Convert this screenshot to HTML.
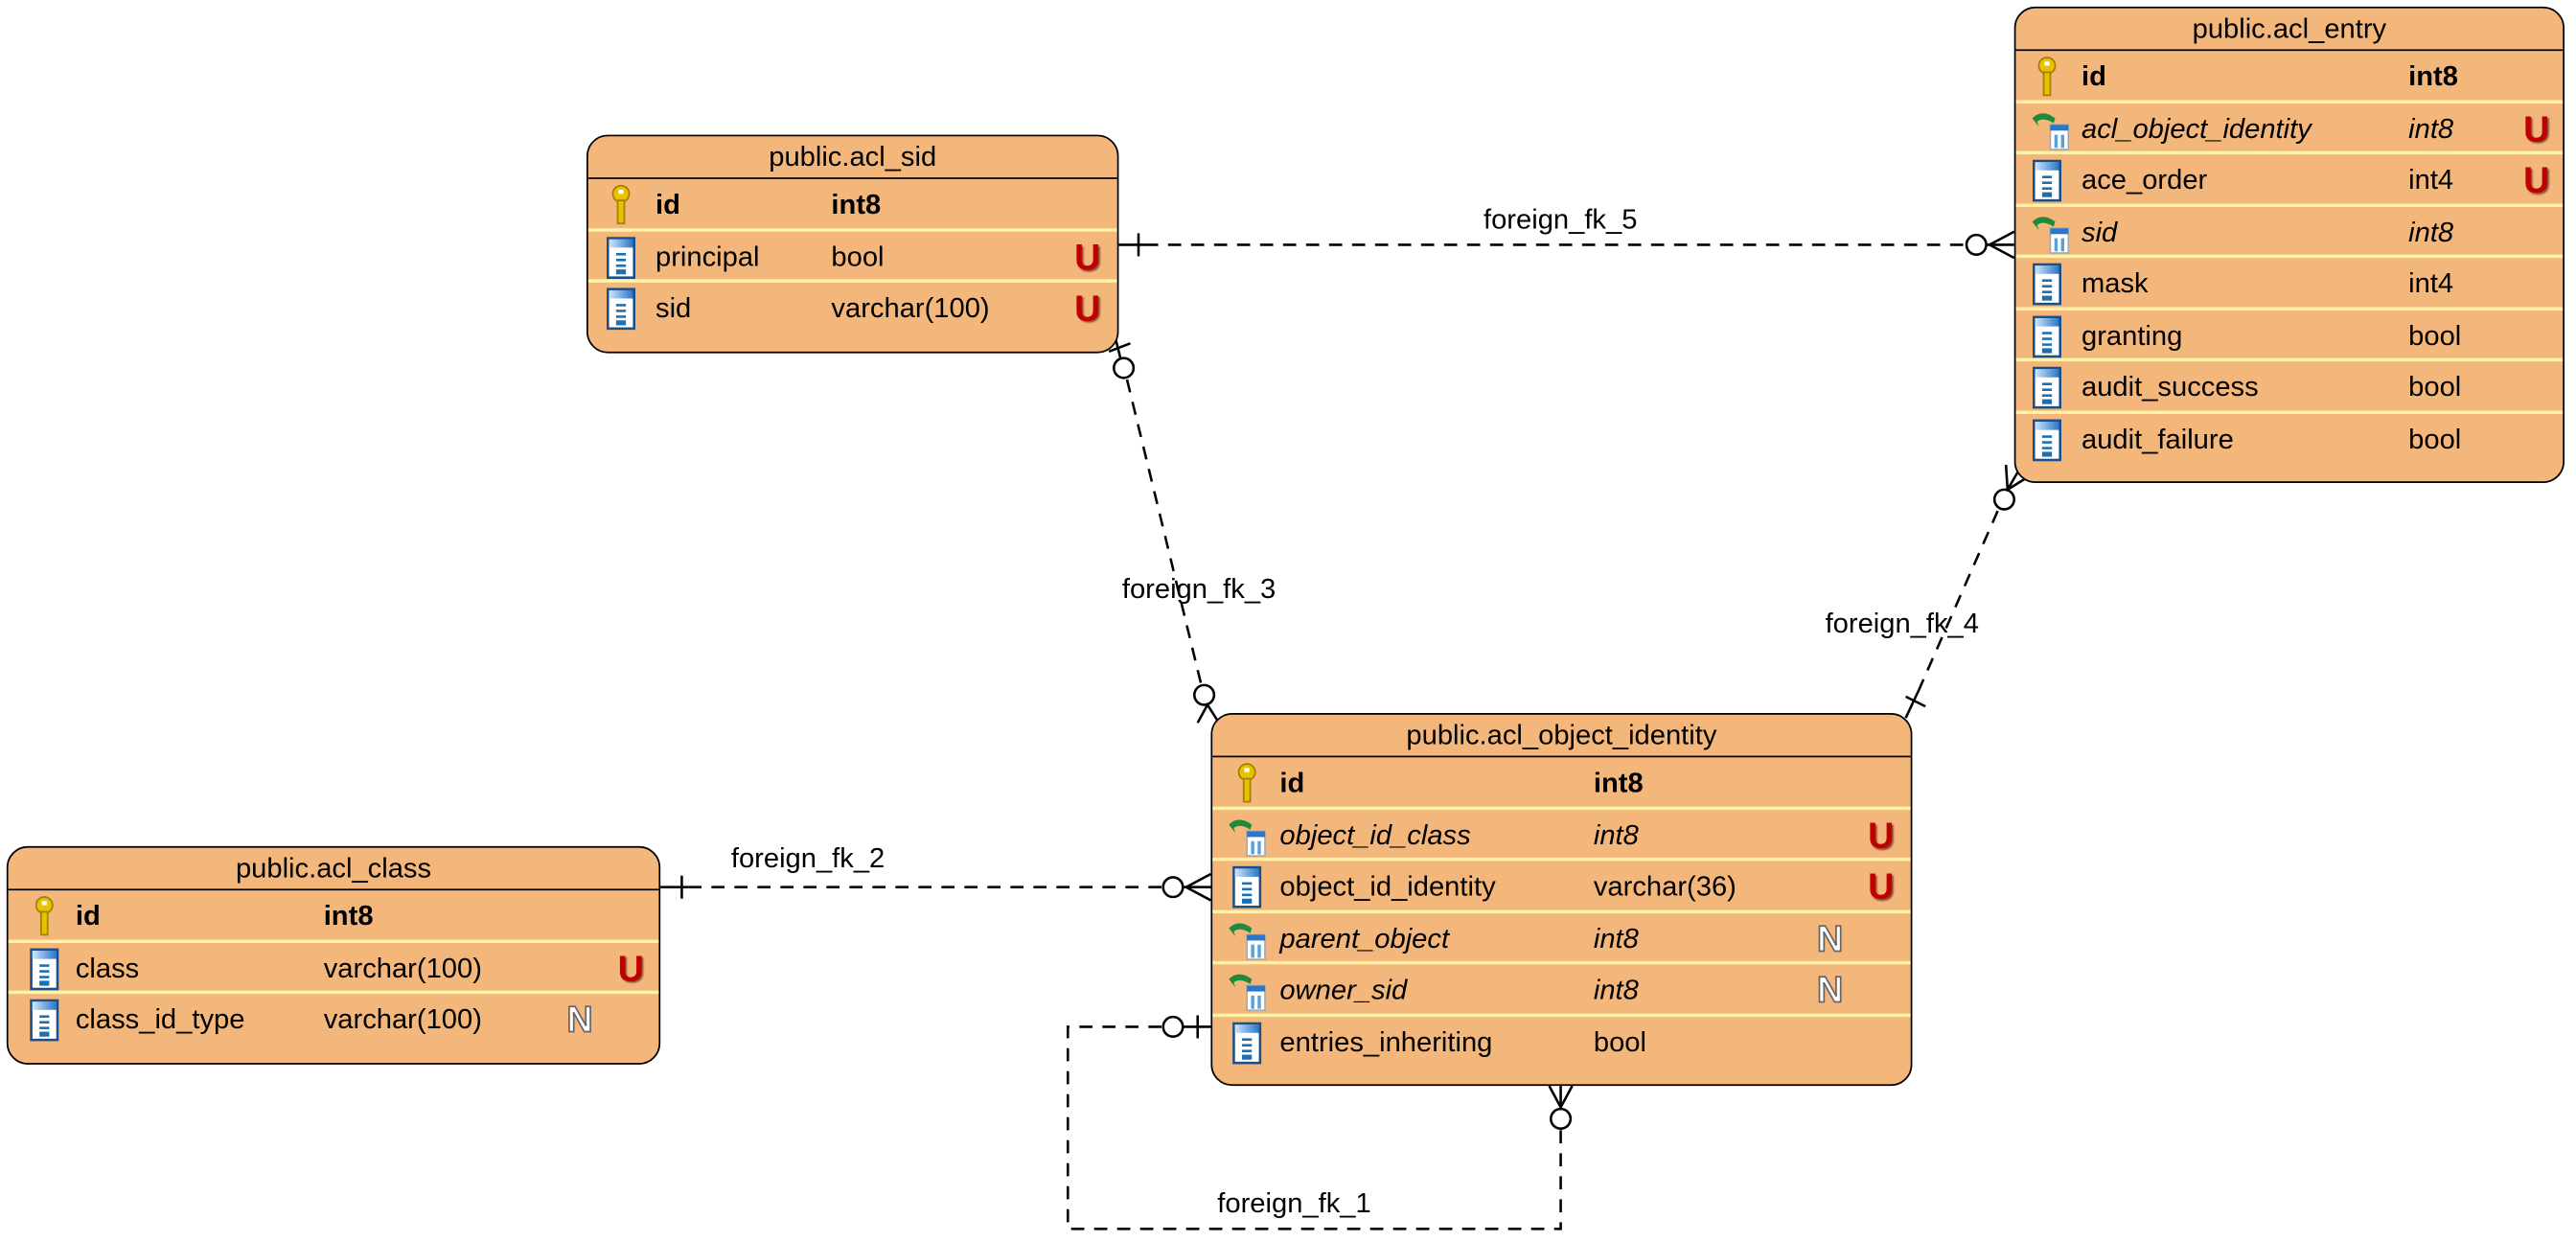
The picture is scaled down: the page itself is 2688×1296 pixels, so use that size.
<!DOCTYPE html>
<html><head><meta charset="utf-8"><style>
html,body{margin:0;padding:0;background:#fff;width:2688px;height:1296px;overflow:hidden}
#w{position:absolute;left:0;top:0;width:1568px;height:756px;transform:scale(1.71429);transform-origin:0 0;font-family:"Liberation Sans","DejaVu Sans",sans-serif;font-size:17px;color:#000}
.t{position:absolute;background:#f3b67b;border:1.5px solid #000;border-radius:13px;box-sizing:border-box;overflow:hidden}
.h{height:26px;line-height:26px;text-align:center;border-bottom:1.5px solid #000;box-sizing:border-box}
.r{position:relative;height:31.5px;line-height:31px;box-sizing:border-box}
.r.s{border-bottom:2px solid #fff3a8}
.r span{position:absolute;top:0;white-space:nowrap}
.r svg{position:absolute;top:3px}
.b{font-weight:bold}.i{font-style:italic}
.U{color:#c00000;font-weight:bold;font-size:22px;text-shadow:1px 1px 1px #8a4a30}
.N{color:#fff;font-weight:bold;font-size:22px;-webkit-text-stroke:1px #666}
.lb{position:absolute;white-space:nowrap;font-size:17px}
</style></head><body><div id="w">
<svg width="0" height="0" style="position:absolute"><defs>
<linearGradient id="g" x1="0" x2="1"><stop offset="0" stop-color="#cfe6fb"/><stop offset="1" stop-color="#2a76c8"/></linearGradient>
<symbol id="key" viewBox="0 0 18 26"><circle cx="9" cy="6" r="5" fill="#e8c200" stroke="#a08000"/><rect x="7.5" y="3.5" width="3" height="2.5" fill="#fff"/><rect x="7" y="10" width="4" height="14" fill="#e8c200" stroke="#a08000"/></symbol>
<symbol id="col" viewBox="0 0 18 26"><rect x="1" y="1" width="16" height="24" fill="#fff" stroke="#1d4f86" stroke-width="1.5"/><rect x="1.7" y="1.7" width="14.6" height="5" fill="url(#g)"/><rect x="6" y="10" width="6" height="1.5" fill="#1d6fb0"/><rect x="6" y="13.5" width="6" height="1.5" fill="#1d6fb0"/><rect x="6" y="17" width="6" height="1.5" fill="#1d6fb0"/><rect x="6" y="20" width="6" height="3" fill="#1d6fb0"/></symbol>
<symbol id="fk" viewBox="0 0 26 26"><path d="M2 6 Q8 0 16 6 L15 9 Q9 5 5 8 L6 11 Z" fill="#1f8a3a"/><rect x="13" y="10" width="11" height="15" fill="#fff" stroke="#aaa"/><rect x="13" y="10" width="11" height="3.5" fill="#2a76c8"/><rect x="15.5" y="16" width="2" height="8" fill="#5aa0d8"/><rect x="19.5" y="16" width="2" height="8" fill="#5aa0d8"/></symbol>
</defs></svg>

<svg style="position:absolute;left:0;top:0" width="1568" height="756" fill="none" stroke="#000" stroke-width="1.5">
<g stroke-dasharray="8,6">
<line x1="697" y1="149" x2="1197" y2="149"/>
<line x1="686" y1="231" x2="731" y2="416"/>
<line x1="1216" y1="311" x2="1168" y2="420"/>
<line x1="419" y1="540" x2="708" y2="540"/>
<path d="M707 625 H650 V748 H950 V688"/>
</g>
<!-- fk5 -->
<line x1="681" y1="149" x2="697" y2="149"/><line x1="693" y1="142" x2="693" y2="156"/>
<circle cx="1203" cy="149" r="6"/><line x1="1209" y1="149" x2="1226" y2="149"/>
<path d="M1226 141 L1211 149 L1226 157"/>
<!-- fk3 -->
<path d="M675 214 L688 209"/><line x1="679" y1="206" x2="682" y2="218"/>
<circle cx="684" cy="224" r="6"/>
<circle cx="733" cy="423" r="6"/>
<path d="M729 440 L735 429 L742 440"/>
<!-- fk4 -->
<path d="M1221 283 L1222 298 L1235 290 M1222 298 L1229 286"/>
<circle cx="1220" cy="304" r="6"/>
<line x1="1160" y1="424" x2="1172" y2="430"/><line x1="1168" y1="420" x2="1160" y2="437"/>
<!-- fk2 -->
<line x1="402" y1="540" x2="419" y2="540"/><line x1="415" y1="533" x2="415" y2="547"/>
<circle cx="714" cy="540" r="6"/><line x1="720" y1="540" x2="737" y2="540"/>
<path d="M737 532 L722 540 L737 548"/>
<!-- fk1 -->
<circle cx="714" cy="625" r="6"/><line x1="720" y1="625" x2="737" y2="625"/><line x1="729" y1="618" x2="729" y2="632"/>
<circle cx="950" cy="681" r="6"/><line x1="950" y1="661" x2="950" y2="675"/>
<path d="M943 661 L950 674 L957 661"/>
</svg>

<div class="lb" style="left:903px;top:124px">foreign_fk_5</div>
<div class="lb" style="left:683px;top:349px">foreign_fk_3</div>
<div class="lb" style="left:1111px;top:370px">foreign_fk_4</div>
<div class="lb" style="left:445px;top:513px">foreign_fk_2</div>
<div class="lb" style="left:741px;top:723px">foreign_fk_1</div>

<div class="t" style="left:357px;top:82px;width:324px;height:133px">
<div class="h">public.acl_sid</div>
<div class="r s"><svg style="left:11px" width="18" height="26"><use href="#key"/></svg><span class="b" style="left:41px">id</span><span class="b" style="left:148px">int8</span></div>
<div class="r s"><svg style="left:11px" width="18" height="26"><use href="#col"/></svg><span style="left:41px">principal</span><span style="left:148px">bool</span><span class="U" style="left:296px">U</span></div>
<div class="r"><svg style="left:11px" width="18" height="26"><use href="#col"/></svg><span style="left:41px">sid</span><span style="left:148px">varchar(100)</span><span class="U" style="left:296px">U</span></div>
</div>

<div class="t" style="left:1226px;top:4px;width:335px;height:290px">
<div class="h">public.acl_entry</div>
<div class="r s"><svg style="left:10px" width="18" height="26"><use href="#key"/></svg><span class="b" style="left:40px">id</span><span class="b" style="left:239px">int8</span></div>
<div class="r s"><svg style="left:8px" width="26" height="26"><use href="#fk"/></svg><span class="i" style="left:40px">acl_object_identity</span><span class="i" style="left:239px">int8</span><span class="U" style="left:309px">U</span></div>
<div class="r s"><svg style="left:10px" width="18" height="26"><use href="#col"/></svg><span style="left:40px">ace_order</span><span style="left:239px">int4</span><span class="U" style="left:309px">U</span></div>
<div class="r s"><svg style="left:8px" width="26" height="26"><use href="#fk"/></svg><span class="i" style="left:40px">sid</span><span class="i" style="left:239px">int8</span></div>
<div class="r s"><svg style="left:10px" width="18" height="26"><use href="#col"/></svg><span style="left:40px">mask</span><span style="left:239px">int4</span></div>
<div class="r s"><svg style="left:10px" width="18" height="26"><use href="#col"/></svg><span style="left:40px">granting</span><span style="left:239px">bool</span></div>
<div class="r s"><svg style="left:10px" width="18" height="26"><use href="#col"/></svg><span style="left:40px">audit_success</span><span style="left:239px">bool</span></div>
<div class="r"><svg style="left:10px" width="18" height="26"><use href="#col"/></svg><span style="left:40px">audit_failure</span><span style="left:239px">bool</span></div>
</div>

<div class="t" style="left:737px;top:434px;width:427px;height:227px">
<div class="h">public.acl_object_identity</div>
<div class="r s"><svg style="left:12px" width="18" height="26"><use href="#key"/></svg><span class="b" style="left:41px">id</span><span class="b" style="left:232px">int8</span></div>
<div class="r s"><svg style="left:8px" width="26" height="26"><use href="#fk"/></svg><span class="i" style="left:41px">object_id_class</span><span class="i" style="left:232px">int8</span><span class="U" style="left:399px">U</span></div>
<div class="r s"><svg style="left:12px" width="18" height="26"><use href="#col"/></svg><span style="left:41px">object_id_identity</span><span style="left:232px">varchar(36)</span><span class="U" style="left:399px">U</span></div>
<div class="r s"><svg style="left:8px" width="26" height="26"><use href="#fk"/></svg><span class="i" style="left:41px">parent_object</span><span class="i" style="left:232px">int8</span><span class="N" style="left:368px">N</span></div>
<div class="r s"><svg style="left:8px" width="26" height="26"><use href="#fk"/></svg><span class="i" style="left:41px">owner_sid</span><span class="i" style="left:232px">int8</span><span class="N" style="left:368px">N</span></div>
<div class="r"><svg style="left:12px" width="18" height="26"><use href="#col"/></svg><span style="left:41px">entries_inheriting</span><span style="left:232px">bool</span></div>
</div>

<div class="t" style="left:4px;top:515px;width:398px;height:133px">
<div class="h">public.acl_class</div>
<div class="r s"><svg style="left:13px" width="18" height="26"><use href="#key"/></svg><span class="b" style="left:41px">id</span><span class="b" style="left:192px">int8</span></div>
<div class="r s"><svg style="left:13px" width="18" height="26"><use href="#col"/></svg><span style="left:41px">class</span><span style="left:192px">varchar(100)</span><span class="U" style="left:371px">U</span></div>
<div class="r"><svg style="left:13px" width="18" height="26"><use href="#col"/></svg><span style="left:41px">class_id_type</span><span style="left:192px">varchar(100)</span><span class="N" style="left:340px">N</span></div>
</div>
</div></body></html>
